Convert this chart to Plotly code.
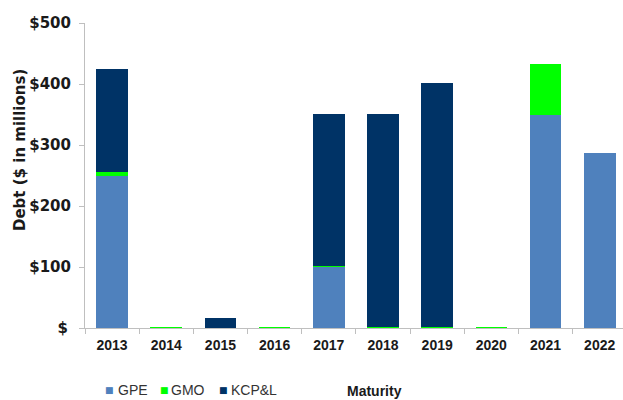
import plotly.graph_objects as go

years = ["2013", "2014", "2015", "2016", "2017", "2018", "2019", "2020", "2021", "2022"]
gpe = [250, 0, 0, 0, 100, 0, 0, 0, 350, 287.5]
gmo = [5, 1.5, 0, 1.5, 1, 1, 1, 1.5, 82, 0]
kcpl = [169, 0, 16, 0, 250, 350, 400, 0, 0, 0]

series_names = ["GPE", "GMO", "KCP&L"]
series_colors = ["#4F81BD", "#00FF00", "#003366"]

ytick_vals = [0, 100, 200, 300, 400, 500]
ytick_text = ["$\u2009", "$100", "$200", "$300", "$400", "$500"]

fig = go.Figure()
for name, vals, col in zip(series_names, [gpe, gmo, kcpl], series_colors):
    fig.add_trace(go.Bar(x=years, y=vals, name=name, marker=dict(color=col, line=dict(width=0)),
                         showlegend=False))

L, R, T, B = 85, 0, 23, 72
W, H = 623, 400
pw = W - L - R
ph = H - T - B

def px_x(p):
    return (p - L) / pw

def px_y(p):
    return (H - B - p) / ph

fig.update_layout(
    width=W, height=H,
    margin=dict(l=L, r=R, t=T, b=B, pad=0),
    barmode="stack",
    bargap=0.417,
    plot_bgcolor="white",
    paper_bgcolor="white",
    xaxis=dict(
        type="category",
        range=[-0.5, 9.43],
        showline=True, linecolor="#BFBFBF", linewidth=1,
        ticks="outside", tickson="boundaries", ticklen=5, tickcolor="#BFBFBF",
        tickfont=dict(family="Liberation Sans", size=14, color="#1a1a1a", weight="bold"),
        ticklabelstandoff=4,
        showgrid=False,
    ),
    yaxis=dict(
        range=[0, 500],
        tickvals=ytick_vals, ticktext=ytick_text,
        showline=True, linecolor="#BFBFBF", linewidth=1,
        ticks="outside", ticklen=5, tickcolor="#BFBFBF",
        tickfont=dict(family="DejaVu Sans", size=15, color="#1a1a1a", weight="bold"),
        ticklabelstandoff=5,
        showgrid=False, zeroline=False,
    ),
    font=dict(family="Liberation Sans"),
)

annotations = [
    dict(text="Debt ($ in millions)", x=px_x(20), y=px_y(150), xref="paper", yref="paper",
         textangle=-90, showarrow=False, xanchor="center", yanchor="middle",
         font=dict(family="DejaVu Sans", size=15, color="#1a1a1a", weight="bold")),
    dict(text="Maturity", x=px_x(374), y=px_y(400), xref="paper", yref="paper",
         showarrow=False, xanchor="center", yanchor="bottom", borderpad=0,
         font=dict(family="Liberation Sans", size=14, color="#1a1a1a", weight="bold")),
]
legend_sq_x = [109.5, 164.5, 223.5]
legend_tx_x = [116, 169, 229]
for name, col, sx, tx in zip(series_names, series_colors, legend_sq_x, legend_tx_x):
    annotations.append(dict(text="\u25A0", x=px_x(sx), y=px_y(390), xref="paper", yref="paper",
                            showarrow=False, xanchor="center", yanchor="middle",
                            font=dict(family="DejaVu Sans", size=9, color=col)))
    annotations.append(dict(text=name, x=px_x(tx), y=px_y(390), xref="paper", yref="paper",
                            showarrow=False, xanchor="left", yanchor="middle",
                            font=dict(family="Liberation Sans", size=14, color="#333333")))
fig.update_layout(annotations=annotations)

fig.write_html("out.html", config={"displayModeBar": False},
               post_script="document.body.style.margin='0';document.body.style.overflow='hidden';")
